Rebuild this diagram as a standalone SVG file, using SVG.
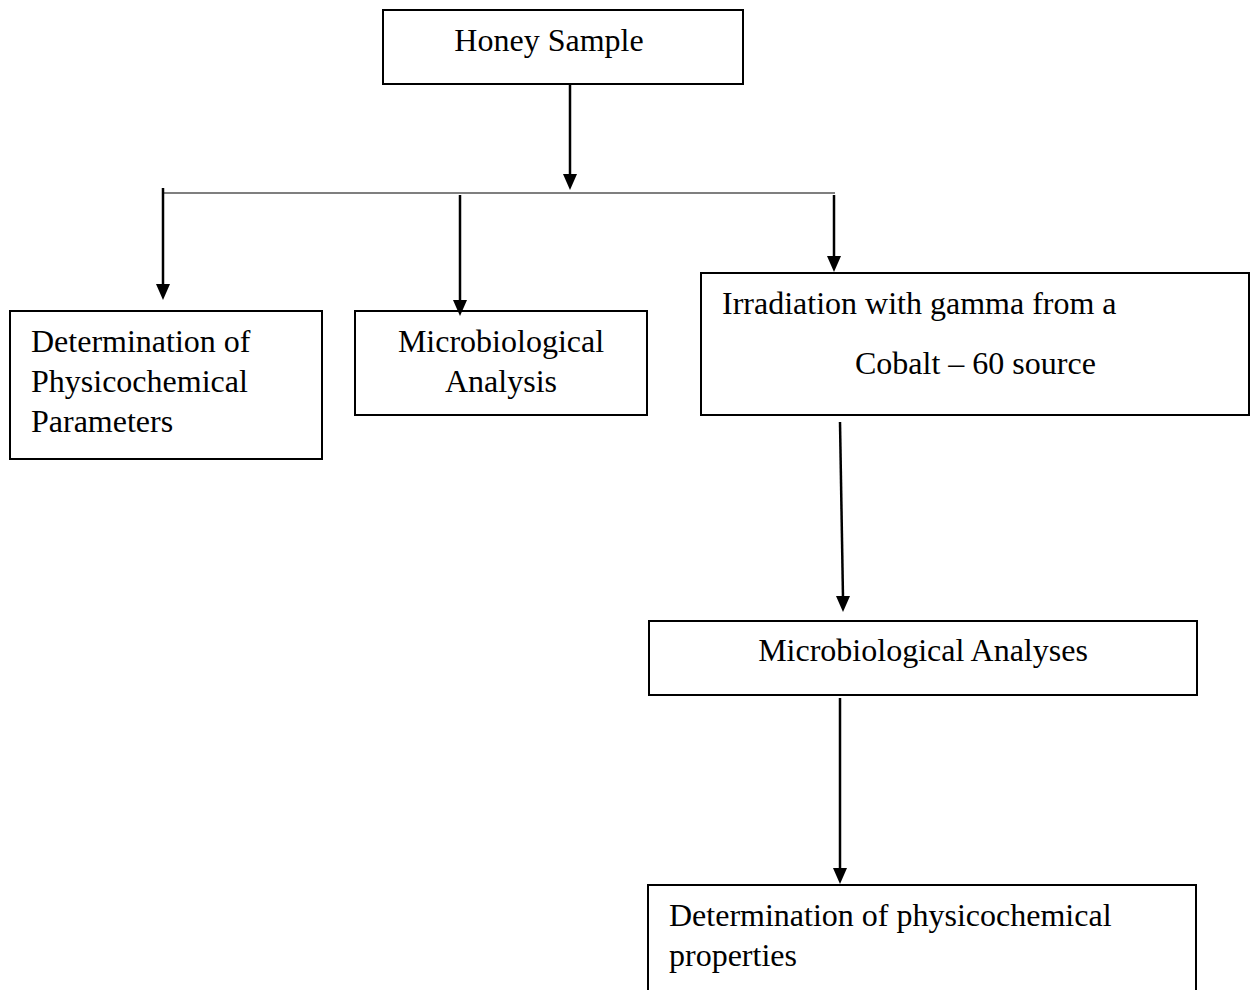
<svg xmlns="http://www.w3.org/2000/svg" width="1254" height="990" viewBox="0 0 1254 990">
<style>
.box{fill:#fff;stroke:#000;stroke-width:2}
.t{font-family:"Liberation Serif","Times New Roman",serif;font-size:32px;fill:#000}
.c{text-anchor:middle}
.ln{stroke:#000;stroke-width:2.5;fill:none}
.hl{stroke:#555;stroke-width:1.5;fill:none}
</style>
<rect width="1254" height="990" fill="#fff"/>
<g id="honey">
<rect class="box" x="383" y="10" width="360" height="74"/>
<text class="t c" x="549" y="51">Honey Sample</text>
</g>
<g id="physico">
<rect class="box" x="10" y="311" width="312" height="148"/>
<text class="t" x="31" y="352">Determination of</text>
<text class="t" x="31" y="392">Physicochemical</text>
<text class="t" x="31" y="432">Parameters</text>
</g>
<g id="micro">
<rect class="box" x="355" y="311" width="292" height="104"/>
<text class="t c" x="501" y="352">Microbiological</text>
<text class="t c" x="501" y="392">Analysis</text>
</g>
<g id="irradiation">
<rect class="box" x="701" y="273" width="548" height="142"/>
<text class="t" x="722" y="314">Irradiation with gamma from a</text>
<text class="t" x="855" y="374">Cobalt – 60 source</text>
</g>
<g id="microAnalyses">
<rect class="box" x="649" y="621" width="548" height="74"/>
<text class="t c" x="923" y="661">Microbiological Analyses</text>
</g>
<g id="physicoProps">
<rect class="box" x="648" y="885" width="548" height="120"/>
<text class="t" x="669" y="926">Determination of physicochemical</text>
<text class="t" x="669" y="966">properties</text>
</g>
<g id="connectors">
<line class="ln" x1="570" y1="84" x2="570" y2="176"/>
<path d="M563,174 L577,174 L570,190 Z"/>
<line class="hl" x1="163" y1="193" x2="835" y2="193"/>
<line class="ln" x1="163" y1="188" x2="163" y2="286"/>
<path d="M156,284 L170,284 L163,300 Z"/>
<line class="ln" x1="460" y1="195" x2="460" y2="302"/>
<path d="M453,300 L467,300 L460,316 Z"/>
<line class="ln" x1="834" y1="195" x2="834" y2="258"/>
<path d="M827,256 L841,256 L834,272 Z"/>
<line class="ln" x1="840" y1="422" x2="843" y2="598"/>
<path d="M836,596 L850,596 L843,612 Z"/>
<line class="ln" x1="840" y1="698" x2="840" y2="870"/>
<path d="M833,868 L847,868 L840,884 Z"/>
</g>
</svg>
